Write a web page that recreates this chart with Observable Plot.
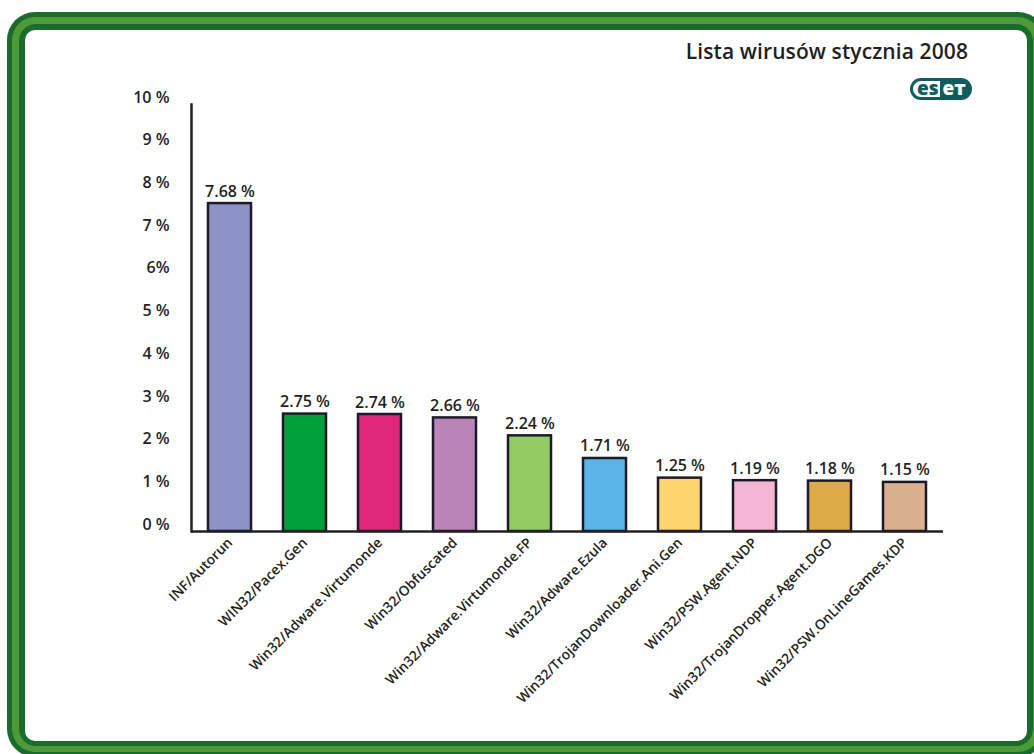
<!DOCTYPE html>
<html>
<head>
<meta charset="utf-8">
<script src="https://cdn.jsdelivr.net/npm/d3@7"></script>
<script src="https://cdn.jsdelivr.net/npm/@observablehq/plot@0.6"></script>
<style>
  html, body { margin: 0; padding: 0; background: #fff; }
  body { width: 1034px; height: 754px; position: relative; overflow: hidden; font-family: "Open Sans", sans-serif; }
  .ring { position: absolute; box-sizing: border-box; }
  #r1 { left: 7px; top: 12px; width: 1039px; height: 745px; border-radius: 28px; background: #1b6b2c; }
  #r2 { left: 12px; top: 17px; width: 1029px; height: 735px; border-radius: 23px; background: #4f9a38; }
  #r3 { left: 19px; top: 24px; width: 1014px; height: 722px; border-radius: 17px; background: #1b6b2c; }
  #inner { left: 25px; top: 30px; width: 1002px; height: 711px; border-radius: 10px; background: #fff; }
  #title {
    position: absolute; right: 66px; top: 37px; font-size: 21px; font-weight: 600; color: #231f20;
    letter-spacing: 0.1px;
  }
  #logo {
    position: absolute; left: 910px; top: 78px; height: 22px; display: flex; align-items: stretch;
    font-family: "Open Sans", sans-serif; font-weight: 800; font-size: 19px; color: #0d5c5e;
  }
  #logo .a { border: 3px solid #0d5c5e; border-right: none; border-radius: 11px 0 0 11px; padding: 0 1px 0 4px; line-height: 15px; background: #fff; }
  #logo .b { background: #0d5c5e; color: #fff; border-radius: 0 11px 11px 0; padding: 0 6px 0 3px; line-height: 21px; }
  #chart { position: absolute; left: 0; top: 0; }
</style>
</head>
<body>
<div class="ring" id="r1"></div>
<div class="ring" id="r2"></div>
<div class="ring" id="r3"></div>
<div class="ring" id="inner"></div>
<div id="title">Lista wirusów stycznia 2008</div>
<div id="logo"><span class="a">es</span><span class="b">eт</span></div>
<div id="chart"></div>
<script>
const categories = [
  "INF/Autorun",
  "WIN32/Pacex.Gen",
  "Win32/Adware.Virtumonde",
  "Win32/Obfuscated",
  "Win32/Adware.Virtumonde.FP",
  "Win32/Adware.Ezula",
  "Win32/TrojanDownloader.Ani.Gen",
  "Win32/PSW.Agent.NDP",
  "Win32/TrojanDropper.Agent.DGO",
  "Win32/PSW.OnLineGames.KDP"
];
const values = [7.68, 2.75, 2.74, 2.66, 2.24, 1.71, 1.25, 1.19, 1.18, 1.15];
const valueLabels = ["7.68 %", "2.75 %", "2.74 %", "2.66 %", "2.24 %", "1.71 %", "1.25 %", "1.19 %", "1.18 %", "1.15 %"];
const colors = ["#8d93c6", "#00a03a", "#e0287a", "#b985b8", "#92cc63", "#5ab4e5", "#fdd56e", "#f4b6d3", "#dcab48", "#d9b18f"];
const yTicks = [0, 1, 2, 3, 4, 5, 6, 7, 8, 9, 10];
const yTickLabels = ["0 %", "1 %", "2 %", "3 %", "4 %", "5 %", "6%", "7 %", "8 %", "9 %", "10 %"];

const data = categories.map((c, i) => ({name: c, value: values[i], label: valueLabels[i], color: colors[i]}));

const chart = Plot.plot({
  width: 1034,
  height: 754,
  marginLeft: 191,
  marginRight: 91,
  marginTop: 104,
  marginBottom: 223,
  style: {background: "transparent", fontFamily: "Open Sans, sans-serif", color: "#231f20", overflow: "visible"},
  x: {domain: categories, paddingInner: 0.43, paddingOuter: 0.215, label: null},
  y: {domain: [0, 10], label: null},
  marks: [
    Plot.barY(data, {x: "name", y: "value", fill: "color", stroke: "#1c1a2a", strokeWidth: 2.5}),
    Plot.text(data, {x: "name", y: "value", text: "label", lineAnchor: "bottom", dy: -7, fontSize: 16, fontWeight: 600, fill: "#231f20"}),
    Plot.axisY({ticks: yTicks, tickFormat: (d) => yTickLabels[yTicks.indexOf(d)], tickSize: 0, tickPadding: 22, dy: -7, fontSize: 16, fontWeight: 600, label: null}),
    Plot.axisX({tickSize: 0, tickPadding: 9, tickRotate: -45, fontSize: 13.8, fontWeight: 600, label: null}),
    Plot.frame({anchor: "left", stroke: "#231f20", strokeWidth: 2.5}),
    Plot.ruleY([0], {stroke: "#231f20", strokeWidth: 2.5})
  ]
});
document.getElementById("chart").appendChild(chart);
</script>
</body>
</html>
